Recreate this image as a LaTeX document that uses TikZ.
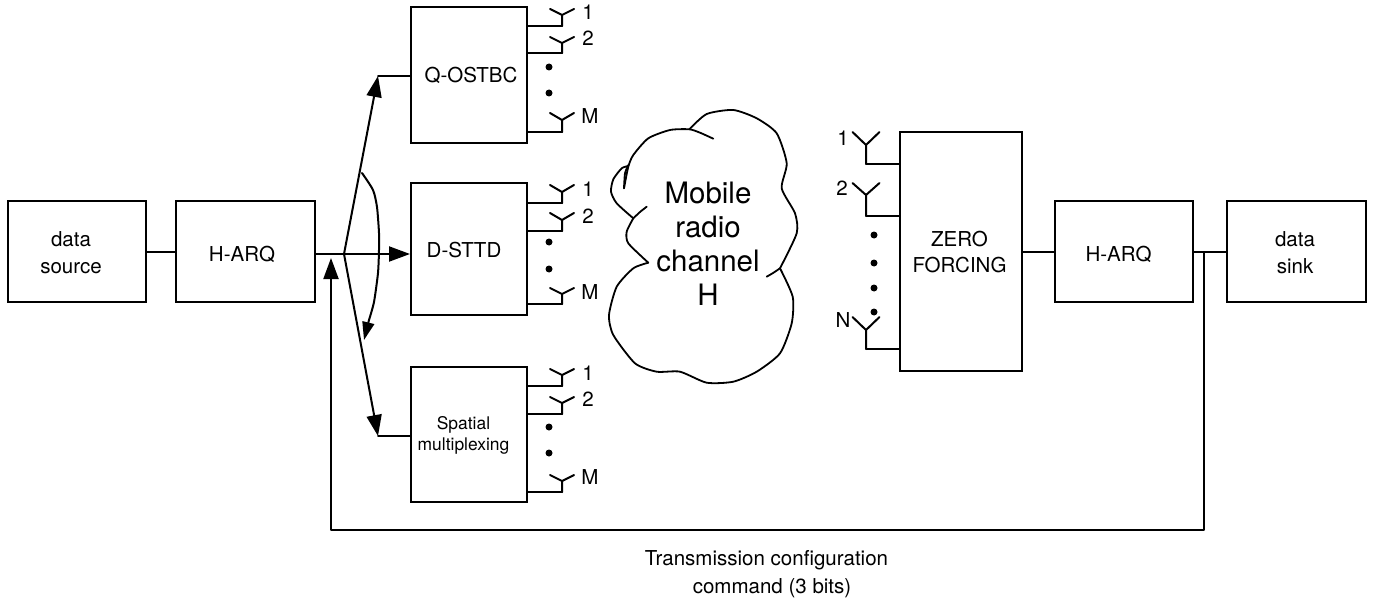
\documentclass[tikz,border=0pt]{standalone}
\usepackage{fontspec}
\setmainfont{TeX Gyre Heros}
\usetikzlibrary{arrows.meta}
\tikzset{
  x=1bp,y=-1bp,
  line/.style={line width=2bp,line cap=round,line join=round,black},
  box/.style={draw,line width=2bp,inner sep=0pt},
  boxtext/.style={inner sep=0pt,align=center,font=\fontsize{20.6}{27}\selectfont},
  tag/.style={inner sep=0pt,font=\fontsize{20.6}{24}\selectfont,anchor=base},
  arrow/.style={line,-{Triangle[length=21bp,width=15bp]}},
  dotmark/.style={circle,fill=black,inner sep=0pt,minimum size=7bp},
  cloudline/.style={line,line width=1.8bp},
}
\newcommand{\abox}[5]{\node[box,minimum width=#4bp,minimum height=#5bp] (#1) at (#2,#3) {};}
% antenna: name, x of stem, y of foot, y of vertex, y of arm tips, half width
\newcommand{\ant}[6]{%
  \coordinate (#1f) at (#2,#3);
  \coordinate (#1v) at (#2,#4);
  \coordinate (#1l) at (#2-#6,#5);
  \coordinate (#1r) at (#2+#6,#5);
  \draw[line] (#1f) -- (#1v) (#1l) -- (#1v) -- (#1r);
}
\begin{document}
\begin{tikzpicture}
\useasboundingbox (0,0) rectangle (1385,601);
% boxes
\abox{src}{77}{251.5}{138}{101}
\abox{harqa}{245.5}{251.5}{139}{101}
\abox{qo}{469}{75}{116}{136}
\abox{ds}{469}{249}{116}{132}
\abox{sm}{469}{434.5}{116}{135}
\abox{zf}{961}{251.5}{122}{239}
\abox{harqb}{1124}{251.5}{138}{101}
\abox{snk}{1296.5}{251.5}{139}{101}
\node[boxtext] (srct) at (71,252.5) {data\\source};
\node[boxtext] (harqat) at (242,254) {H-ARQ};
\node[boxtext] (qot) at (471,75.5) {Q-OSTBC};
\node[boxtext] (dst) at (464,250.5) {D-STTD};
\node[boxtext,font=\fontsize{17.5}{21}\selectfont] (smt) at (463.5,435.5) {Spatial\\multiplexing};
\node[boxtext] (zft) at (959.5,252) {ZERO\\FORCING};
\node[boxtext] (harqbt) at (1118.5,254) {H-ARQ};
\node[boxtext] (snkt) at (1295,252.5) {data\\sink};
% main connectors
\coordinate (hub) at (344,254);
\coordinate (upk) at (378,76);
\coordinate (dnk) at (378,436);
\coordinate (fb) at (331,530);
\coordinate (fbr) at (1204,530);
\coordinate (fbj) at (1204,252);
\draw[line] (src.east |- fbj) -- (harqa.west |- fbj);
\draw[line] (harqa.east |- hub) -- (hub);
\draw[arrow] (hub) -- (ds.west |- hub);
\draw[arrow] (hub) -- (upk);
\draw[line] (upk) -- (qo.west |- upk);
\draw[arrow] (hub) -- (dnk);
\draw[line] (dnk) -- (sm.west |- dnk);
\draw[arrow] (fbj) -- (fbr) -- (fb) -- (331,258);
\draw[line] (zf.east |- fbj) -- (harqb.west |- fbj);
\draw[line] (harqb.east |- fbj) -- (snk.west |- fbj);
% curved arrow
\coordinate (ca) at (362,173);
\coordinate (cb) at (364,340);
\draw[line,-{Triangle[length=18bp,width=12bp]}] plot[smooth,tension=0.4] coordinates {(ca) (373,190) (377,207) (379,233) (379,250) (378,273) (374,302) (369,320)} -- (cb);
% Q-OSTBC antennas
\ant{qa}{562}{26}{15}{9}{12}
\ant{qb}{562}{53}{43}{37}{12}
\ant{qm}{562}{132}{120}{113}{12}
\draw[line] (qo.east |- qaf) -- (qaf);
\draw[line] (qo.east |- qbf) -- (qbf);
\draw[line] (qo.east |- qmf) -- (qmf);
\node[dotmark] (qd1) at (549,67) {};
\node[dotmark] (qd2) at (549,93) {};
\node[tag] (ql1) at (588,20) {1};
\node[tag] (ql2) at (588,46) {2};
\node[tag] (qlm) at (590,124) {M};
% D-STTD antennas
\ant{da}{562}{203}{192}{185}{12}
\ant{db}{562}{231}{220}{213}{12}
\ant{dm}{562}{304}{294}{288}{12}
\draw[line] (ds.east |- daf) -- (daf);
\draw[line] (ds.east |- dbf) -- (dbf);
\draw[line] (ds.east |- dmf) -- (dmf);
\node[dotmark] (dd1) at (549,242) {};
\node[dotmark] (dd2) at (549,269) {};
\node[tag] (dl1) at (588,197) {1};
\node[tag] (dl2) at (588,223) {2};
\node[tag] (dlm) at (590,299) {M};
% Spatial antennas
\ant{sa}{562}{386}{375}{369}{12}
\ant{sb}{562}{414}{403}{397}{12}
\ant{sm}{562}{492}{481}{475}{12}
\draw[line] (sm.east |- saf) -- (saf);
\draw[line] (sm.east |- sbf) -- (sbf);
\draw[line] (sm.east |- smf) -- (smf);
\node[dotmark] (sd1) at (549,427) {};
\node[dotmark] (sd2) at (549,453) {};
\node[tag] (sl1) at (588,380) {1};
\node[tag] (sl2) at (588,406) {2};
\node[tag] (slm) at (590,484) {M};
% receive antennas
\ant{ra}{866}{164}{145}{132}{13.5}
\ant{rb}{866}{216}{195}{183}{13.5}
\ant{rn}{866}{349}{330}{317}{13.5}
\draw[line] (raf) -- (zf.west |- raf);
\draw[line] (rbf) -- (zf.west |- rbf);
\draw[line] (rnf) -- (zf.west |- rnf);
\node[dotmark] (rd1) at (874,235) {};
\node[dotmark] (rd2) at (874,263) {};
\node[dotmark] (rd3) at (874,288) {};
\node[dotmark] (rd4) at (874,312) {};
\node[tag] (rl1) at (843,146) {1};
\node[tag] (rl2) at (842,196) {2};
\node[tag] (rln) at (843,327) {N};
% cloud
\draw[cloudline] plot[smooth,tension=0.4] coordinates {(713.3,138.7) (700,132.7) (689.3,129.3) (670,130) (648.3,138.3) (633.3,155) (628.3,166.7) (624,188.3)};
\draw[cloudline] plot[smooth,tension=0.4] coordinates {(624,188.3) (625,173.3) (628.3,165)};
\draw[cloudline] plot[smooth,tension=0.4] coordinates {(628.3,166) (621.7,168.3) (613.3,179.3) (611,191.7) (616.7,203.3) (633.3,218.3)};
\draw[cloudline] plot[smooth,tension=0.4] coordinates {(633.3,218.3) (640,212) (646.7,206.7)};
\draw[cloudline] plot[smooth,tension=0.4] coordinates {(633.3,218.3) (626.7,231.7) (628.3,243.3) (648.3,262.7)};
\draw[cloudline] plot[smooth,tension=0.4] coordinates {(648.3,262.7) (633.3,268.3) (616.7,286.7) (609,315) (613.3,335) (635,363.3) (656.7,371.7) (680,371.7) (706.7,382.7) (733.3,381.7) (756.7,371.7) (780,353.3) (791.7,323.3) (792.7,296.7) (780,268.3)};
\draw[cloudline] plot[smooth,tension=0.4] coordinates {(780,268.3) (773,273) (766.7,276.7)};
\draw[cloudline] plot[smooth,tension=0.4] coordinates {(780,268.3) (796.7,233.3) (795,213.3) (781.7,188.3) (786.7,163.3) (776.7,133.3) (756.7,118.3) (733.3,110) (706.7,114) (689.3,129.3)};
\node[inner sep=0pt,align=center,font=\fontsize{29.6}{34}\selectfont] (ch) at (708,244) {Mobile\\radio\\channel\\H};
% caption
\node[tag] (cap1) at (766.5,565) {Transmission configuration};
\node[tag] (cap2) at (772,593) {command (3 bits)};
\end{tikzpicture}
\end{document}
